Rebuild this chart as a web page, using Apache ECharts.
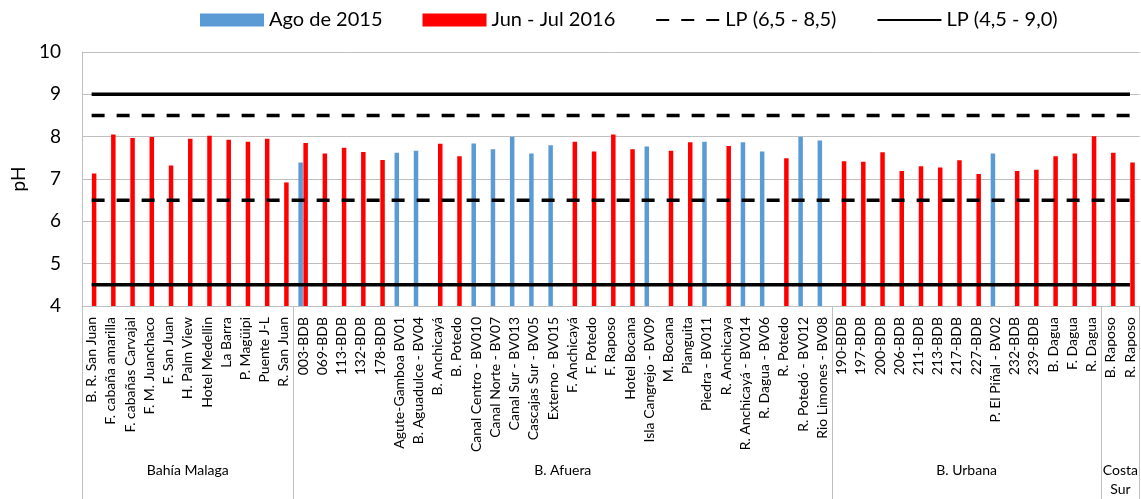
<!DOCTYPE html>
<html>
<head>
<meta charset="utf-8">
<script src="https://cdn.jsdelivr.net/npm/echarts@6/dist/echarts.min.js"></script>
<style>html,body{margin:0;padding:0;background:#fff;}#c{width:1141px;height:499px;}</style>
</head>
<body>
<div id="c"></div>
<script>
const categories = [
  'B. R. San Juan','F. cabaña amarilla','F. cabañas Carvajal','F. M. Juanchaco','F. San Juan','H. Palm View','Hotel Medellin','La Barra','P. Magüipi','Puente J-L','R. San Juan',
  '003-BDB','069-BDB','113-BDB','132-BDB','178-BDB','Agute-Gamboa BV01','B. Aguadulce - BV04','B. Anchicayá','B. Potedo','Canal Centro - BV010','Canal Norte - BV07','Canal Sur - BV013','Cascajas Sur - BV05','Externo - BV015','F. Anchicayá','F. Potedo','F. Raposo','Hotel Bocana','Isla Cangrejo - BV09','M. Bocana','Pianguita','Piedra - BV011','R. Anchicaya','R. Anchicayá - BV014','R. Dagua - BV06','R. Potedo','R. Potedó - BV012','Rio Limones - BV08',
  '190-BDB','197-BDB','200-BDB','206-BDB','211-BDB','213-BDB','217-BDB','227-BDB','P. El Piñal - BV02','232-BDB','239-BDB','B. Dagua','F. Dagua','R. Dagua',
  'B. Raposo','R. Raposo'
];
const groupNames = ['Bahía Malaga', 'B. Afuera', 'B. Urbana', 'Costa\nSur'];
const groupSizes = [11, 28, 14, 2];

const ago2015 = [
  null,null,null,null,null,null,null,null,null,null,null,
  7.39,null,null,null,null,7.62,7.67,null,null,7.84,7.70,8.00,7.60,7.80,null,null,null,null,7.77,null,null,7.88,null,7.87,7.65,null,8.00,7.91,
  null,null,null,null,null,null,null,null,7.60,null,null,null,null,null,
  null,null
];
const junJul2016 = [
  7.13,8.05,7.97,7.99,7.32,7.95,8.02,7.93,7.88,7.95,6.92,
  7.85,7.60,7.74,7.64,7.45,null,null,7.83,7.54,null,null,null,null,null,7.88,7.65,8.05,7.70,null,7.67,7.87,null,7.78,null,null,7.49,null,null,
  7.42,7.41,7.63,7.19,7.30,7.27,7.44,7.12,null,7.19,7.22,7.54,7.60,8.01,
  7.62,7.39
];
const lpInner = [6.5, 8.5];   // LP (6,5 - 8,5)
const lpOuter = [4.5, 9.0];   // LP (4,5 - 9,0)
const yTicks = [4, 5, 6, 7, 8, 9, 10];

// group boundaries and centres (in category units)
const bounds = [0];
groupSizes.forEach(s => bounds.push(bounds[bounds.length - 1] + s));
const centres = groupSizes.map((s, i) => bounds[i] + s / 2);

const FONT = 'Lato';
const GRID_C = '#bfbfbf';

function limitSeries(name, v, dashed) {
  return {
    name: name, type: 'line', data: categories.map(() => v),
    symbol: 'none', silent: true, z: 5,
    lineStyle: { color: '#000', width: 3.5, type: dashed ? [13, 12] : 'solid' },
    itemStyle: { color: '#000', opacity: 0 }
  };
}

const chart = echarts.init(document.getElementById('c'), null, { renderer: 'canvas' });
chart.setOption({
  animation: false,
  textStyle: { fontFamily: FONT },
  legend: {
    left: 200, top: 10, padding: 0,
    itemWidth: 64, itemHeight: 13, itemGap: 40,
    textStyle: { fontFamily: FONT, fontSize: 20, color: '#000' },
    data: [
      { name: 'Ago de 2015', icon: 'rect' },
      { name: 'Jun - Jul 2016', icon: 'rect' },
      { name: 'LP (6,5 - 8,5)', itemStyle: { opacity: 0 } },
      { name: 'LP (4,5 - 9,0)', itemStyle: { opacity: 0 } }
    ]
  },
  grid: { left: 82, right: -4, top: 52, bottom: 190, containLabel: false },
  xAxis: [
    {
      type: 'category', data: categories, position: 'bottom',
      axisLine: { lineStyle: { color: GRID_C, width: 1 } },
      axisTick: { show: false },
      axisLabel: { interval: 0, rotate: 90, margin: 11, fontSize: 14, fontFamily: FONT, color: '#000' },
      splitLine: { show: false }
    },
    {
      type: 'value', position: 'bottom', min: 0, max: categories.length,
      axisLine: { show: false },
      splitLine: { show: false },
      axisTick: { show: true, customValues: bounds, length: 195, lineStyle: { color: GRID_C, width: 1 } },
      axisLabel: {
        customValues: centres, margin: 155, fontSize: 14, fontFamily: FONT, color: '#000', lineHeight: 19,
        formatter: function (v) { const i = centres.indexOf(v); return i >= 0 ? groupNames[i] : ''; }
      }
    }
  ],
  yAxis: {
    type: 'value', min: yTicks[0], max: yTicks[yTicks.length - 1], interval: 1,
    name: 'pH', nameLocation: 'middle', nameGap: 50, nameRotate: 90,
    nameTextStyle: { fontFamily: FONT, fontSize: 19, color: '#000' },
    axisLine: { show: true, lineStyle: { color: GRID_C, width: 1 } },
    axisTick: { show: false },
    axisLabel: { margin: 21, fontSize: 19, fontFamily: FONT, color: '#000' },
    splitLine: { lineStyle: { color: GRID_C, width: 1 } }
  },
  series: [
    { name: 'Ago de 2015', type: 'bar', data: ago2015, barWidth: 4.5, barGap: '11%', itemStyle: { color: '#5B9BD5' } },
    { name: 'Jun - Jul 2016', type: 'bar', data: junJul2016, barWidth: 4.5, barGap: '11%', itemStyle: { color: '#FF0000' } },
    limitSeries('LP (6,5 - 8,5)', lpInner[0], true),
    limitSeries('LP (6,5 - 8,5)', lpInner[1], true),
    limitSeries('LP (4,5 - 9,0)', lpOuter[0], false),
    limitSeries('LP (4,5 - 9,0)', lpOuter[1], false)
  ]
});
</script>
</body>
</html>
